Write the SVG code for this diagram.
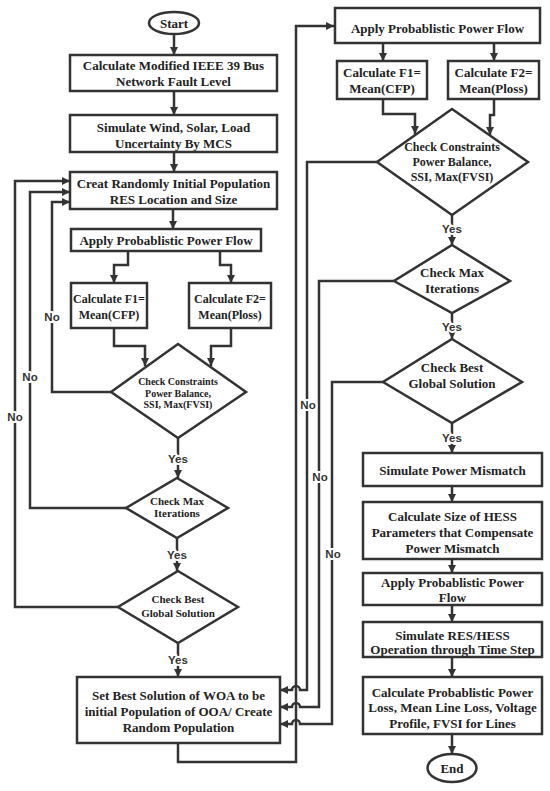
<svg xmlns="http://www.w3.org/2000/svg" width="550" height="791" viewBox="0 0 550 791">
<style>
.n rect,.n ellipse,.n polygon{fill:#fff;stroke:#333;stroke-width:2.5}
.n text{font-family:"Liberation Serif","Times New Roman",serif;font-weight:bold;fill:#222;text-anchor:middle;font-size:13px}
.n text.s{font-size:10px}
.n text.m{font-size:11px}
.n text.r{font-size:12px}
.c path{fill:none;stroke:#333;stroke-width:2.5;stroke-linejoin:miter}
.c path.a{marker-end:url(#ah)}
.c text{font-family:"Liberation Sans",Arial,sans-serif;font-weight:bold;font-size:11.5px;fill:#333;text-anchor:middle;stroke:#fff;stroke-width:4;paint-order:stroke;stroke-linejoin:round}
</style>
<defs>
<marker id="ah" markerUnits="userSpaceOnUse" markerWidth="8" markerHeight="8" viewBox="0 0 10 10" refX="10" refY="5" orient="auto">
<path d="M0,0 L10,5 L0,10 z" fill="#333"/>
</marker>
</defs>
<rect width="550" height="791" fill="#fff"/>
<g class="c" id="connectors">
<path class="a" d="M174,34 V55"/>
<path class="a" d="M174,91 V115"/>
<path class="a" d="M174,152 V172"/>
<path class="a" d="M173,209 V229"/>
<path class="a" d="M128,251 V265 H114 V283"/>
<path class="a" d="M220,251 V265 H231 V283"/>
<path class="a" d="M114,328 V346 H145 V366"/>
<path class="a" d="M231,328 V346 H211 V366"/>
<path class="a" d="M178,438 V478"/>
<path class="a" d="M177,538 V571"/>
<path class="a" d="M178,643 V677"/>
<path class="a" d="M178,743 V762 H296 V26 H334"/>
<path class="a" d="M111,392 H52 V202 H70"/>
<path class="a" d="M126,508 H30 V192 H70"/>
<path class="a" d="M118,607 H15 V181 H70"/>
<path class="a" d="M383,43 V61"/>
<path class="a" d="M494,43 V61"/>
<path class="a" d="M383,99 V114 H415 V134"/>
<path class="a" d="M494,99 V115 H490 V135"/>
<path class="a" d="M452,215 V245"/>
<path class="a" d="M452,313 V339"/>
<path class="a" d="M452,423 V453"/>
<path class="a" d="M452,486 V502"/>
<path class="a" d="M452,559 V573"/>
<path class="a" d="M452,605 V622"/>
<path class="a" d="M452,657 V677"/>
<path class="a" d="M452,734 V754"/>
<path class="a" d="M377,162 H307 V690 H300 A4,4 0 0 0 292,690 H280"/>
<path class="a" d="M394,281 H319 V707 H300 A4,4 0 0 0 292,707 H280"/>
<path class="a" d="M383,382 H332 V724 H300 A4,4 0 0 0 292,724 H280"/>
<text x="178" y="463">Yes</text>
<text x="177" y="559">Yes</text>
<text x="178" y="664">Yes</text>
<text x="452" y="233">Yes</text>
<text x="452" y="331">Yes</text>
<text x="452" y="442">Yes</text>
<text x="52" y="321">No</text>
<text x="30" y="381">No</text>
<text x="15" y="421">No</text>
<text x="308" y="409">No</text>
<text x="320" y="481">No</text>
<text x="333" y="558">No</text>
</g>
<g class="n" id="start"><ellipse cx="174" cy="23" rx="25" ry="11"/><text x="174" y="27.5">Start</text></g>
<g class="n" id="fault"><rect x="70" y="55" width="207" height="36"/><text x="173.5" y="70">Calculate Modified IEEE 39 Bus</text><text x="173.5" y="85.5">Network Fault Level</text></g>
<g class="n" id="simulate"><rect x="70" y="115" width="207" height="37"/><text x="173.5" y="132">Simulate Wind, Solar, Load</text><text x="173.5" y="148">Uncertainty By MCS</text></g>
<g class="n" id="creat"><rect x="70" y="172" width="207" height="37"/><text x="173.5" y="188">Creat Randomly Initial Population</text><text x="173.5" y="203.5">RES Location and Size</text></g>
<g class="n" id="ppf1"><rect x="71" y="229" width="190" height="22"/><text x="166" y="245">Apply Probablistic Power Flow</text></g>
<g class="n" id="f1a"><rect x="71" y="283" width="76" height="45"/><text class="r" x="109" y="302.5">Calculate F1=</text><text class="r" x="109" y="318.5">Mean(CFP)</text></g>
<g class="n" id="f2a"><rect x="189" y="283" width="82" height="45"/><text class="r" x="230" y="302.5">Calculate F2=</text><text class="r" x="230" y="318.5">Mean(Ploss)</text></g>
<g class="n" id="cons1"><polygon points="178,344 246,392 178,438 111,392"/><text class="s" x="178" y="384.5">Check Constraints</text><text class="s" x="178" y="396.5">Power Balance,</text><text class="s" x="178" y="408">SSI, Max(FVSI)</text></g>
<g class="n" id="iter1"><polygon points="177,478 228,508 177,538 126,508"/><text class="m" x="177" y="505">Check Max</text><text class="m" x="177" y="517">Iterations</text></g>
<g class="n" id="best1"><polygon points="178,571 238,607 178,643 118,607"/><text class="m" x="178" y="603">Check Best</text><text class="m" x="178" y="617">Global Solution</text></g>
<g class="n" id="setbest"><rect x="77" y="677" width="203" height="66"/><text x="178.5" y="699.5">Set Best Solution of WOA to be</text><text x="178.5" y="716">initial Population of OOA/ Create</text><text x="178.5" y="731.5">Random Population</text></g>
<g class="n" id="ppf2"><rect x="335" y="8" width="205" height="35"/><text x="437.5" y="32.5">Apply Probablistic Power Flow</text></g>
<g class="n" id="f1b"><rect x="337" y="61" width="90" height="38"/><text x="382" y="76.5">Calculate F1=</text><text x="382" y="93">Mean(CFP)</text></g>
<g class="n" id="f2b"><rect x="448" y="61" width="91" height="38"/><text x="493.5" y="76.5">Calculate F2=</text><text x="493.5" y="93">Mean(Ploss)</text></g>
<g class="n" id="cons2"><polygon points="452,109 528,162 452,215 377,162"/><text class="r" x="452" y="151">Check Constraints</text><text class="r" x="452" y="166">Power Balance,</text><text class="r" x="452" y="181">SSI, Max(FVSI)</text></g>
<g class="n" id="iter2"><polygon points="452,245 510,281 452,313 394,281"/><text x="452" y="276.5">Check Max</text><text x="452" y="292.5">Iterations</text></g>
<g class="n" id="best2"><polygon points="452,339 522,382 452,423 383,382"/><text x="452" y="371.5">Check Best</text><text x="452" y="387.5">Global Solution</text></g>
<g class="n" id="mismatch"><rect x="363" y="453" width="179" height="33"/><text x="452.5" y="475">Simulate Power Mismatch</text></g>
<g class="n" id="hess"><rect x="363" y="502" width="179" height="57"/><text x="452.5" y="520.5">Calculate Size of HESS</text><text x="452.5" y="536.5">Parameters that Compensate</text><text x="452.5" y="552.5">Power Mismatch</text></g>
<g class="n" id="ppf3"><rect x="363" y="573" width="179" height="32"/><text x="452.5" y="586.5">Apply Probablistic Power</text><text x="452.5" y="601.5">Flow</text></g>
<g class="n" id="reshess"><rect x="363" y="622" width="179" height="35"/><text x="452.5" y="639.5">Simulate RES/HESS</text><text x="452.5" y="653.5">Operation through Time Step</text></g>
<g class="n" id="loss"><rect x="363" y="677" width="179" height="57"/><text x="452.5" y="696.5">Calculate Probablistic Power</text><text x="452.5" y="711.5">Loss, Mean Line Loss, Voltage</text><text x="452.5" y="727.5">Profile, FVSI for Lines</text></g>
<g class="n" id="end"><ellipse cx="452" cy="768" rx="24.5" ry="14"/><text x="452" y="772.5">End</text></g>
</svg>
